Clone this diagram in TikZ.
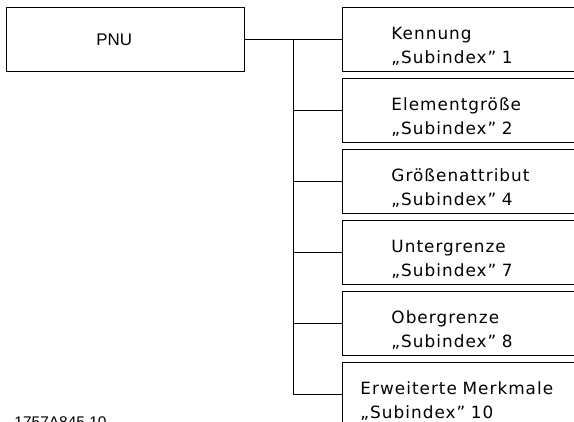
\documentclass[tikz,border=0pt]{standalone}
\usepackage{fontspec}
\setmainfont{DejaVu Sans}[LetterSpace=6]
\newfontfamily\arialfont{Liberation Sans}

\tikzset{
  Feld/.style={draw, line width=0.7pt, anchor=north west, minimum height=1.6cm,
    inner xsep=1.225cm, text width=5cm, align=left,
    font=\fontsize{12}{17}\selectfont,
    execute at begin node={\rule{0pt}{18pt}}},
}

\begin{document}
\begin{tikzpicture}[line width=0.7pt]

\clip (0,0) rectangle (14.35,-10.525);

\node[draw, anchor=north west, minimum height=1.6cm, inner xsep=2.25cm,
  text width=1.45cm, align=left, font=\arialfont\fontsize{12}{14}\selectfont]
  (pnu) at (0.15,-0.175) {PNU};

\coordinate (bus) at (7.325,0);

\node[Feld] (sub1) at (8.55,-0.175) {Kennung\\„Subindex” 1};
\node[Feld] (sub2) at (8.55,-1.95) {Elementgröße\\„Subindex” 2};
\node[Feld] (sub3) at (8.55,-3.725) {Größenattribut\\„Subindex” 4};
\node[Feld] (sub4) at (8.55,-5.5) {Untergrenze\\„Subindex” 7};
\node[Feld] (sub5) at (8.55,-7.275) {Obergrenze\\„Subindex” 8};
\node[Feld, inner xsep=0.45cm, text width=6cm,
  execute at begin node={\rule{0pt}{13.5pt}}] (sub6) at (8.55,-9.05)
  {Erweiterte Merkmale\\„Subindex” 10};

% Verbindungen
\draw (pnu.east) -- (sub1.west);
\draw (pnu.east -| bus) -- (sub6.west -| bus);
\foreach \i in {2,...,6}
  \draw (sub\i.west -| bus) -- (sub\i.west);

\node[anchor=base west, inner sep=0pt, font=\arialfont\fontsize{11}{13}\selectfont]
  (nr) at (0.35,-10.675) {1757A845.10};

\end{tikzpicture}
\end{document}
